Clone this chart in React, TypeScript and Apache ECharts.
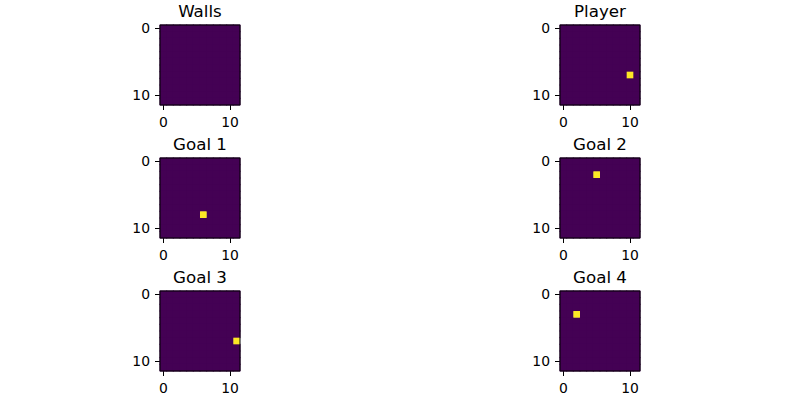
import React, { useEffect, useRef } from "react";
import * as echarts from "echarts";

// Grid categories (12 x 12 board)
const CELLS = ["0", "1", "2", "3", "4", "5", "6", "7", "8", "9", "10", "11"];
const TICK_LABELS = ["0", "10"];

// Layer titles
const TITLES = ["Walls", "Player", "Goal 1", "Goal 2", "Goal 3", "Goal 4"];

// Non-zero cells of each layer, as [column, row]
const WALLS: number[][] = [];
const PLAYER: number[][] = [[10, 7]];
const GOAL_1: number[][] = [[6, 8]];
const GOAL_2: number[][] = [[5, 2]];
const GOAL_3: number[][] = [[11, 7]];
const GOAL_4: number[][] = [[2, 3]];

const LAYERS = [WALLS, PLAYER, GOAL_1, GOAL_2, GOAL_3, GOAL_4];

const LOW = "#440154";
const HIGH = "#fde725";
const FONT = "DejaVu Sans";

function buildCells(ones: number[][]) {
  const zeros: number[][] = [];
  const hot: number[][] = [];
  for (let r = 0; r < CELLS.length; r++) {
    for (let c = 0; c < CELLS.length; c++) {
      const on = ones.some((p) => p[0] === c && p[1] === r);
      (on ? hot : zeros).push([c, r, on ? 1 : 0]);
    }
  }
  return zeros.concat(hot);
}

export default function App() {
  const ref = useRef<HTMLDivElement>(null);
  useEffect(() => {
    if (!ref.current) return;
    const chart = echarts.init(ref.current, null, { renderer: "svg", width: 800, height: 400 });
    const lefts = [160, 560];
    const tops = [25, 158, 291];
    const size = 80;
    const grids: any[] = [];
    const xAxes: any[] = [];
    const yAxes: any[] = [];
    const series: any[] = [];
    const graphics: any[] = [];
    const isTick = (i: number) => TICK_LABELS.indexOf(CELLS[i]) >= 0;
    LAYERS.forEach((layer, k) => {
      const left = lefts[k % 2];
      const top = tops[Math.floor(k / 2)];
      grids.push({ left, top, width: size, height: size, show: false });
      const axisCommon = {
        type: "category",
        data: CELLS,
        gridIndex: k,
        axisLine: { show: false },
        splitLine: { show: false },
        axisTick: {
          show: true, alignWithLabel: true, length: 5,
          interval: (i: number) => isTick(i),
          lineStyle: { color: "#000", width: 1 },
        },
        axisLabel: {
          show: true, margin: 10, color: "#000", fontFamily: FONT, fontSize: 13.9,
          interval: (i: number) => isTick(i),
        },
      };
      xAxes.push({ ...axisCommon, position: "bottom" });
      yAxes.push({ ...axisCommon, inverse: true, position: "left" });
      series.push({
        type: "custom",
        xAxisIndex: k,
        yAxisIndex: k,
        data: buildCells(layer),
        encode: { x: 0, y: 1 },
        silent: true,
        renderItem: (params: any, api: any) => {
          const c = api.coord([api.value(0), api.value(1)]);
          const s = api.size([1, 1]);
          const hot = api.value(2) > 0;
          const pad = hot ? 0 : 0.5;
          return {
            type: "rect",
            shape: {
              x: c[0] - s[0] / 2 - pad,
              y: c[1] - s[1] / 2 - pad,
              width: s[0] + 2 * pad,
              height: s[1] + 2 * pad,
            },
            style: { fill: hot ? HIGH : LOW },
          };
        },
      });
      graphics.push({
        type: "rect",
        z: 100,
        shape: { x: left, y: top, width: size, height: size },
        style: { fill: "none", stroke: "#000", lineWidth: 1 },
        silent: true,
      });
      graphics.push({
        type: "text",
        x: left + size / 2,
        y: top - 6,
        style: {
          text: TITLES[k],
          fill: "#000",
          font: `16.7px '${FONT}'`,
          textAlign: "center",
          textVerticalAlign: "bottom",
        },
      });
    });
    chart.setOption({
      animation: false,
      backgroundColor: "#fff",
      grid: grids,
      xAxis: xAxes,
      yAxis: yAxes,
      series,
      graphic: graphics,
    });
    return () => chart.dispose();
  }, []);
  return (
    <div
      ref={ref}
      style={{ position: "fixed", left: 0, top: 0, width: 800, height: 400 }}
    />
  );
}
